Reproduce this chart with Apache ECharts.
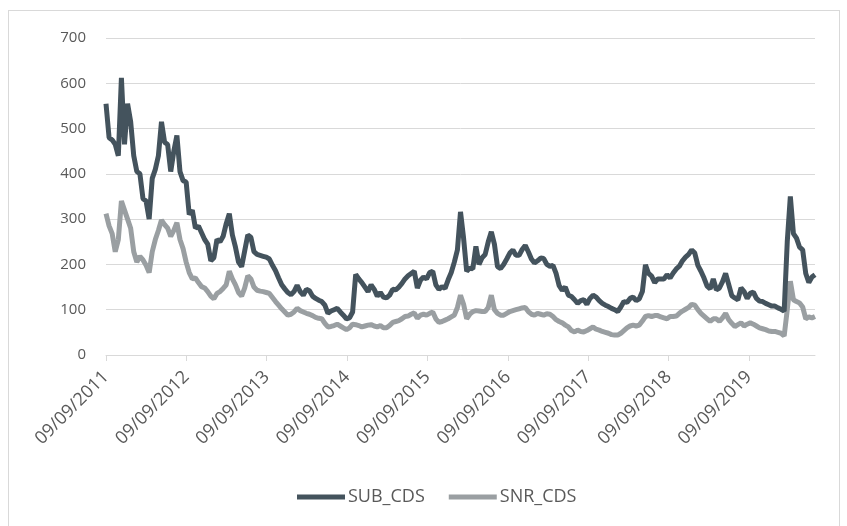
<!DOCTYPE html>
<html lang="en">
<head>
    <meta charset="UTF-8">
    <title>SUB_CDS / SNR_CDS</title>
    <script src="https://cdn.jsdelivr.net/npm/echarts@6/dist/echarts.min.js"></script>
    <style>
        html, body { margin: 0; padding: 0; background: #fff; }
        #main { width: 847px; height: 526px; }
        .frame { position: absolute; left: 8px; top: 10px; width: 830px; height: 540px;
                 border: 1px solid #d9d9d9; pointer-events: none; }
    </style>
</head>
<body>
    <div id="main"></div>
    <div class="frame"></div>
    <script>
        // series sampled every two weeks from 09/09/2011
        var stepDays = 14;
        var xTickLabels = ['09/09/2011', '09/09/2012', '09/09/2013', '09/09/2014', '09/09/2015',
            '09/09/2016', '09/09/2017', '09/09/2018', '09/09/2019'];

        var subCds = [
            555, 480, 475, 465, 440, 612, 465, 555, 515, 440,
            405, 400, 345, 340, 300, 390, 410, 440, 515, 470,
            465, 405, 450, 485, 405, 385, 382, 310, 320, 280,
            285, 270, 255, 245, 208, 215, 255, 250, 262, 290,
            312, 265, 238, 205, 195, 230, 265, 260, 228, 222,
            220, 218, 216, 212, 198, 186, 170, 155, 146, 138,
            133, 140, 154, 140, 132, 145, 142, 130, 125, 121,
            118, 110, 92, 97, 100, 103, 95, 88, 80, 82,
            95, 178, 168, 160, 150, 140, 155, 145, 130, 138,
            128, 126, 132, 145, 144, 150, 158, 168, 175, 180,
            185, 148, 165, 172, 168, 182, 185, 155, 145, 151,
            147, 166, 182, 205, 232, 316, 258, 185, 192, 190,
            240, 200, 215, 222, 250, 272, 245, 195, 191, 200,
            212, 225, 232, 220, 220, 233, 242, 228, 212, 203,
            208, 214, 213, 200, 196, 198, 180, 153, 143, 150,
            132, 129, 122, 114, 120, 122, 112, 125, 132, 128,
            120, 114, 110, 107, 103, 100, 96, 106, 118, 116,
            125, 128, 120, 124, 140, 199, 180, 174, 160, 168,
            168, 168, 177, 170, 181, 190, 196, 208, 216, 222,
            232, 225, 198, 185, 170, 152, 146, 168, 144, 148,
            162, 180, 156, 131, 126, 122, 148, 140, 125, 136,
            139, 125, 119, 118, 114, 111, 108, 108, 104, 101,
            97, 250, 350, 268, 258, 238, 232, 180, 160, 172,
            177
        ];

        var snrCds = [
            312, 285, 268, 228, 255, 340, 320, 300, 280, 228,
            205, 218, 210, 198, 182, 228, 255, 275, 298, 288,
            280, 262, 275, 292, 255, 235, 205, 182, 168, 170,
            160, 151, 148, 140, 130, 124, 136, 140, 147, 155,
            185, 168, 155, 138, 130, 148, 175, 168, 150, 143,
            141, 140, 138, 136, 127, 118, 110, 102, 95, 88,
            90, 95, 103, 98, 95, 92, 90, 87, 83, 81,
            80, 70, 62, 63, 65, 68, 64, 60, 56, 60,
            68, 67, 65, 62, 64, 66, 67, 64, 62, 65,
            60, 60, 65, 72, 74, 76, 80, 85, 86, 90,
            93, 81, 88, 90, 88, 92, 95, 80, 72, 74,
            77, 80, 84, 88, 105, 132, 112, 80, 90, 96,
            98, 97, 96, 96, 105, 132, 100, 92, 88, 88,
            92, 96, 98, 100, 102, 104, 105, 96, 90, 88,
            92, 90, 88, 91, 90, 85, 78, 74, 71, 66,
            62, 54, 51, 55, 52, 51, 54, 58, 62, 57,
            55, 52, 50, 48, 45, 44, 44, 48, 54, 60,
            64, 66, 64, 66, 75, 85, 87, 85, 87, 87,
            84, 82, 80, 85, 85, 86, 92, 97, 101, 105,
            112, 110, 100, 92, 86, 80, 74, 80, 80, 74,
            82, 92, 78, 70, 63, 67, 71, 64, 68, 71,
            68, 64, 60, 58, 56, 53, 52, 52, 50, 48,
            42, 100, 163, 122, 118, 115, 106, 80, 84, 82,
            85
        ];

        function toPoints(values) {
            var pts = [];
            for (var i = 0; i < values.length; i++) {
                pts.push([i * stepDays, values[i]]);
            }
            return pts;
        }

        var myChart = echarts.init(document.getElementById('main'));
        var labelFont = 'Open Sans';

        var option = {
            animation: false,
            grid: {
                left: 106,
                right: 32,
                top: 38,
                bottom: 171
            },
            legend: {
                bottom: 15,
                left: 292,
                icon: 'rect',
                itemWidth: 48,
                itemHeight: 5,
                itemGap: 24,
                textStyle: {
                    color: '#595959',
                    fontFamily: labelFont,
                    fontSize: 18,
                    padding: [0, 0, 0, -2]
                },
                data: ['SUB_CDS', 'SNR_CDS']
            },
            xAxis: {
                type: 'value',
                min: 0,
                max: (subCds.length - 1) * stepDays,
                interval: 365,
                splitLine: { show: false },
                axisLine: { lineStyle: { color: '#d9d9d9', width: 1 } },
                axisTick: { show: true, length: 6, lineStyle: { color: '#d9d9d9' } },
                axisLabel: {
                    rotate: 45,
                    margin: 19,
                    color: '#595959',
                    fontFamily: labelFont,
                    fontSize: 18,
                    showMaxLabel: false,
                    formatter: function(v) {
                        var k = v / 365;
                        return (k % 1 === 0 && xTickLabels[k]) ? xTickLabels[k] : '';
                    }
                }
            },
            yAxis: {
                type: 'value',
                min: 0,
                max: 700,
                interval: 100,
                axisLine: { show: false },
                axisTick: { show: false },
                splitLine: { lineStyle: { color: '#d9d9d9', width: 1 } },
                axisLabel: {
                    margin: 20,
                    color: '#595959',
                    fontFamily: labelFont,
                    fontSize: 15
                }
            },
            series: [{
                name: 'SUB_CDS',
                type: 'line',
                symbol: 'none',
                data: toPoints(subCds),
                itemStyle: { color: '#44535d' },
                lineStyle: { color: '#44535d', width: 5 },
                z: 3
            }, {
                name: 'SNR_CDS',
                type: 'line',
                symbol: 'none',
                data: toPoints(snrCds),
                itemStyle: { color: '#9a9fa2' },
                lineStyle: { color: '#9a9fa2', width: 5 },
                z: 2
            }]
        };

        myChart.setOption(option);
    </script>
</body>
</html>
